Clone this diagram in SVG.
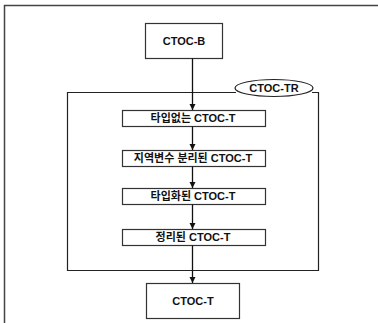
<svg xmlns="http://www.w3.org/2000/svg" width="378" height="323" viewBox="0 0 378 323">
<style>
.box{fill:#fff;stroke:#333;stroke-width:1.2}
.t{font-family:"Liberation Sans","Noto Sans CJK KR",sans-serif;font-weight:bold;font-size:11px;fill:#111;text-anchor:middle}
.c{stroke:#111;stroke-width:1.3;fill:none}
</style>
<defs>
<marker id="ah" viewBox="0 0 10 10" refX="10" refY="5" markerWidth="6" markerHeight="7" orient="auto" markerUnits="userSpaceOnUse">
<path d="M0,0 L10,5 L0,10 z" fill="#111"/>
</marker>
</defs>
<rect width="378" height="323" fill="#fff"/>
<g id="frame">
<path d="M4.5,323 V5.5 H378" fill="none" stroke="#444" stroke-width="1.5"/>
</g>
<g id="ctoc-tr">
<path d="M236,92.5 H67.5 V270.5 H318.5 V92.5 H312" fill="none" stroke="#222" stroke-width="1.2"/>
<ellipse cx="274" cy="88" rx="39" ry="8.5" fill="#fff" stroke="#222" stroke-width="1.2"/>
<text class="t" x="274" y="92">CTOC-TR</text>
</g>
<g id="ctoc-b">
<rect class="box" x="145.5" y="23.5" width="77" height="35"/>
<text class="t" x="184" y="45">CTOC-B</text>
</g>
<g id="n1">
<rect class="box" x="122.5" y="110.5" width="143" height="16"/>
<text class="t" x="193" y="122">타입없는 CTOC-T</text>
</g>
<g id="n2">
<rect class="box" x="122.5" y="150.5" width="143" height="16"/>
<text class="t" x="193" y="162">지역변수 분리된 CTOC-T</text>
</g>
<g id="n3">
<rect class="box" x="122.5" y="188.5" width="143" height="16"/>
<text class="t" x="193" y="200">타입화된 CTOC-T</text>
</g>
<g id="n4">
<rect class="box" x="122.5" y="229.5" width="143" height="16"/>
<text class="t" x="193" y="241">정리된 CTOC-T</text>
</g>
<g id="ctoc-t">
<rect class="box" x="146.5" y="283.5" width="93" height="35"/>
<text class="t" x="193" y="305">CTOC-T</text>
</g>
<g id="connectors">
<line class="c" x1="192.5" y1="58.5" x2="192.5" y2="110" marker-end="url(#ah)"/>
<line class="c" x1="192.5" y1="126.5" x2="192.5" y2="150" marker-end="url(#ah)"/>
<line class="c" x1="192.5" y1="166.5" x2="192.5" y2="188" marker-end="url(#ah)"/>
<line class="c" x1="192.5" y1="204.5" x2="192.5" y2="229" marker-end="url(#ah)"/>
<line class="c" x1="192.5" y1="245.5" x2="192.5" y2="283" marker-end="url(#ah)"/>
</g>
</svg>
